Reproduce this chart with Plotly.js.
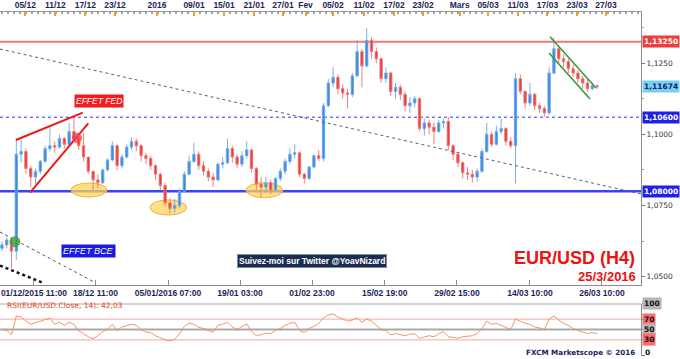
<!DOCTYPE html>
<html>
<head>
<meta charset="utf-8">
<script src="https://cdn.plot.ly/plotly-3.0.1.min.js"></script>
<style>html,body{margin:0;padding:0;background:#fff}#chart{width:680px;height:359px}</style>
</head>
<body>
<div id="chart"></div>
<script>
// ---- Data (EUR/USD H4, aggregated every 4 bars) ----
const opens = [1.0600,1.0612,1.0629,1.0590,1.0930,1.0940,1.0880,1.0850,1.0870,1.0905,1.0950,1.0960,1.0955,1.0985,1.0965,1.1010,1.0985,1.0960,1.0920,1.0870,1.0840,1.0830,1.0875,1.0910,1.0960,1.0890,1.0920,1.0955,1.0975,1.0960,1.0925,1.0915,1.0890,1.0860,1.0820,1.0760,1.0740,1.0750,1.0800,1.0860,1.0905,1.0930,1.0890,1.0870,1.0850,1.0840,1.0895,1.0900,1.0950,1.0920,1.0895,1.0925,1.0945,1.0880,1.0825,1.0815,1.0830,1.0805,1.0845,1.0870,1.0905,1.0930,1.0935,1.0860,1.0845,1.0885,1.0925,1.0915,1.1100,1.1180,1.1200,1.1160,1.1145,1.1140,1.1205,1.1290,1.1240,1.1330,1.1290,1.1265,1.1195,1.1215,1.1150,1.1165,1.1140,1.1100,1.1110,1.1125,1.1020,1.1040,1.1025,1.1010,1.1040,1.1045,1.0960,1.0930,1.0900,1.0865,1.0860,1.0850,1.0870,1.0940,1.1000,1.0965,1.1010,1.1020,1.0975,1.0960,1.1195,1.1150,1.1110,1.1140,1.1100,1.1090,1.1075,1.1215,1.1300,1.1265,1.1255,1.1230,1.1215,1.1195,1.1180,1.1160,1.1170];
const highs = [1.0625,1.0640,1.0635,1.0985,1.0981,1.0950,1.0890,1.0880,1.0910,1.0960,1.1025,1.0975,1.1000,1.0990,1.1040,1.1060,1.1005,1.1005,1.0920,1.0870,1.0860,1.0880,1.0915,1.0975,1.0965,1.0930,1.0965,1.0990,1.0985,1.0965,1.0935,1.0925,1.0895,1.0865,1.0830,1.0775,1.0775,1.0810,1.0870,1.0925,1.0970,1.0940,1.0905,1.0880,1.0865,1.0900,1.0920,1.0985,1.0960,1.0930,1.0940,1.0975,1.0950,1.0885,1.0850,1.0850,1.0840,1.0850,1.0880,1.0915,1.0950,1.0965,1.0940,1.0865,1.0890,1.0930,1.0945,1.1110,1.1195,1.1235,1.1210,1.1175,1.1160,1.1215,1.1330,1.1300,1.1372,1.1340,1.1305,1.1270,1.1235,1.1220,1.1180,1.1175,1.1150,1.1130,1.1135,1.1130,1.1055,1.1050,1.1040,1.1050,1.1055,1.1060,1.0965,1.0935,1.0905,1.0885,1.0875,1.0880,1.0950,1.1040,1.1010,1.1030,1.1055,1.1025,1.0990,1.1215,1.1210,1.1155,1.1180,1.1145,1.1110,1.1100,1.1235,1.1340,1.1310,1.1280,1.1265,1.1245,1.1225,1.1205,1.1195,1.1180,1.1175];
const lows = [1.0590,1.0600,1.0530,1.0560,1.0900,1.0860,1.0815,1.0825,1.0860,1.0900,1.0940,1.0935,1.0950,1.0950,1.0960,1.0975,1.0945,1.0905,1.0860,1.0805,1.0810,1.0825,1.0870,1.0905,1.0875,1.0880,1.0915,1.0945,1.0940,1.0905,1.0895,1.0875,1.0840,1.0805,1.0750,1.0722,1.0725,1.0740,1.0795,1.0855,1.0900,1.0875,1.0855,1.0835,1.0815,1.0835,1.0880,1.0895,1.0900,1.0880,1.0885,1.0915,1.0865,1.0805,1.0780,1.0795,1.0790,1.0800,1.0835,1.0860,1.0895,1.0915,1.0850,1.0828,1.0840,1.0880,1.0905,1.0905,1.1095,1.1165,1.1140,1.1125,1.1090,1.1130,1.1200,1.1165,1.1235,1.1265,1.1250,1.1180,1.1180,1.1135,1.1125,1.1120,1.1080,1.1075,1.1095,1.1010,1.0995,1.1000,1.0965,1.1005,1.1020,1.0945,1.0910,1.0885,1.0845,1.0840,1.0830,1.0835,1.0865,1.0935,1.0955,1.0960,1.1000,1.0960,1.0950,1.0828,1.1140,1.1090,1.1100,1.1085,1.1075,1.1060,1.1070,1.1210,1.1250,1.1235,1.1215,1.1200,1.1180,1.1160,1.1150,1.1155,1.1160];
const closes = [1.0612,1.0629,1.0590,1.0930,1.0940,1.0880,1.0850,1.0870,1.0905,1.0950,1.0960,1.0955,1.0985,1.0965,1.1010,1.0985,1.0960,1.0920,1.0870,1.0840,1.0830,1.0875,1.0910,1.0960,1.0890,1.0920,1.0955,1.0975,1.0960,1.0925,1.0915,1.0890,1.0860,1.0820,1.0760,1.0740,1.0750,1.0800,1.0860,1.0905,1.0930,1.0890,1.0870,1.0850,1.0840,1.0895,1.0900,1.0950,1.0920,1.0895,1.0925,1.0945,1.0880,1.0825,1.0815,1.0830,1.0805,1.0845,1.0870,1.0905,1.0930,1.0935,1.0860,1.0845,1.0885,1.0925,1.0915,1.1100,1.1180,1.1200,1.1160,1.1145,1.1140,1.1205,1.1290,1.1240,1.1330,1.1290,1.1265,1.1195,1.1215,1.1150,1.1165,1.1140,1.1100,1.1110,1.1125,1.1020,1.1040,1.1025,1.1010,1.1040,1.1045,1.0960,1.0930,1.0900,1.0865,1.0860,1.0850,1.0870,1.0940,1.1000,1.0965,1.1010,1.1020,1.0975,1.0960,1.1195,1.1150,1.1110,1.1140,1.1100,1.1090,1.1075,1.1215,1.1300,1.1265,1.1255,1.1230,1.1215,1.1195,1.1180,1.1160,1.1170,1.11674];
const rsi = [50,48,40,76,74,66,60,63,66,68,72,60,64,58,64,60,47,42,36,32,38,46,50,60,48,55,58,60,58,50,45,44,38,34,30,28,31,42,56,62,60,54,52,48,45,58,60,64,55,50,55,61,46,38,40,43,42,48,52,58,62,64,48,44,52,56,62,72,78,80,74,70,66,68,72,64,70,66,58,50,48,40,42,40,38,41,42,33,36,38,36,42,46,36,35,33,36,37,38,42,52,66,60,62,58,54,50,70,66,62,60,55,53,50,70,76,68,62,58,52,48,45,42,44,42.03];

// Axis labels (positions in bar units)
const topTickPos = [4.87,11.12,17.37,23.56,32.31,40.02,46.27,52.52,58.56,63.25,68.98,75.43,81.68,87.73,95.37,101.27,107.52,113.66,119.81,125.85];
const topTickText = ['05/12','11/12','17/12','23/12','2016','09/01','15/01','21/01','27/01','Fev','05/02','11/02','17/02','23/02','Mars','05/03','11/03','17/03','23/03','27/03'];
const bottomTickPos = [6.68,19.5,34.6,49.6,64.6,79.75,94.8,110.0,125.0];
const bottomTickText = ['01/12/2015 11:00','18/12 11:00','05/01/2016 07:00','19/01 03:00','01/02 23:00','15/02 19:00','29/02 15:00','14/03 10:00','26/03 10:00'];
const priceTicks = [1.05,1.075,1.10,1.125];
const rsiLevels = [100,70,50,30,0];

// Horizontal levels
const levelResistance = 1.1325;
const levelDotted = 1.1060;
const levelSupport = 1.0800;

// Trend lines [x0, price0, x1, price1]
const trendLong = [-0.4, 1.12993, 133.14, 1.07905];
const bceLine1 = [-0.4, 1.06572, 19.4, 1.04800];
const bceLine2 = [-0.4, 1.05393, 8.4, 1.04800];
const wedgeTop = [2.93, 1.09800, 16.83, 1.10758];
const wedgeBottom = [5.85, 1.07951, 17.99, 1.10386];
const channelTop = [114.18, 1.13425, 123.77, 1.11625];
const channelBottom = [113.98, 1.12853, 122.52, 1.11239];
// Zones [x0, x1, price0, price1]
const zone1 = [14.39, 21.89, 1.08291, 1.07800];
const zone2 = [30.85, 38.49, 1.07695, 1.07168];
const zone3 = [50.85, 58.49, 1.08302, 1.07775];
const fedDot = [14.7, 16.58, 1.10028, 1.09712];
const bceDot = [1.68, 3.77, 1.06407, 1.06056];

const bars = closes.map((_, i) => i);
const XR = [-0.4, 133.14];
const fmt = (v, d) => v.toFixed(d).replace('.', ',');

const traces = [
  {type:'candlestick', x:bars, open:opens, high:highs, low:lows, close:closes, xaxis:'x', yaxis:'y',
   increasing:{line:{color:'#6aa6e8', width:0.9}, fillcolor:'#3f8ade'},
   decreasing:{line:{color:'#ee7272', width:0.9}, fillcolor:'#e43e3e'},
   hoverinfo:'skip', showlegend:false},
  {type:'scatter', mode:'none', x:[bars[0]], y:[closes[0]], xaxis:'x2', yaxis:'y', hoverinfo:'skip', showlegend:false},
  {type:'scatter', mode:'lines', x:bars, y:rsi, xaxis:'x3', yaxis:'y2', line:{color:'#f08a55', width:0.9}, hoverinfo:'skip', showlegend:false}
];

function tl(a, color, width, dash, layer){
  return {type:'line', xref:'x', yref:'y', x0:a[0], y0:a[1], x1:a[2], y1:a[3], line:{color:color, width:width, dash:dash||'solid'}, layer:layer||'above'};
}
function zone(a, fill, border, layer){
  return {type:'circle', xref:'x', yref:'y', x0:a[0], x1:a[1], y0:a[2], y1:a[3], fillcolor:fill, line:{color:border, width:1}, layer:layer||'below'};
}
function hline(v, color, width, dash, yref){
  return {type:'line', xref:'paper', x0:0, x1:1, yref:yref||'y', y0:v, y1:v, line:{color:color, width:width, dash:dash||'solid'}, layer:'below'};
}

const shapes = [
  zone(zone1, 'rgba(255,214,90,0.75)', '#f2b040'),
  zone(zone2, 'rgba(255,214,90,0.75)', '#f2b040'),
  zone(zone3, 'rgba(255,214,90,0.75)', '#f2b040'),
  hline(levelResistance, '#f27676', 2),
  hline(levelDotted, '#3636e0', 1, 'dot'),
  hline(levelSupport, '#3b44f2', 2.5),
  tl(trendLong, '#4d6685', 1, 'dot'),
  tl(bceLine1, '#555555', 1, 'dot'),
  tl(bceLine2, '#111111', 2.5, 'dot'),
  tl(wedgeTop, '#f01818', 2),
  tl(wedgeBottom, '#f01818', 2),
  tl(channelTop, '#2f9a2f', 1.5),
  tl(channelBottom, '#2f9a2f', 1.5),
  zone(fedDot, 'rgba(240,70,70,0.75)', 'rgba(240,70,70,0.75)', 'above'),
  zone(bceDot, 'rgba(60,165,60,0.8)', 'rgba(60,165,60,0.8)', 'above'),
  hline(100, '#a9a9a9', 2.2, 'solid', 'y2'),
  hline(70, '#f6a6a6', 1, 'solid', 'y2'),
  hline(50, '#a9a9a9', 2.2, 'solid', 'y2'),
  hline(30, '#f6a6a6', 1, 'solid', 'y2')
];

function boxLabel(v, yref, text, bg, fg){
  return {xref:'paper', x:1, xanchor:'left', xshift:1, yref:yref, y:v, yanchor:'middle', text:'<b>'+text+'</b>', showarrow:false,
    bgcolor:bg, borderpad:1, font:{family:'DejaVu Sans', size:7.5, color:fg}};
}
function txt(x, y, xa, text, font, extra){
  return Object.assign({xref:'paper', yref:'paper', x:x, y:y, xanchor:xa, yanchor:'middle', text:text, showarrow:false, font:font}, extra||{});
}
const rsiBg = ['#b5b5b5','#ff6b6b','#b5b5b5','#ff6b6b'];
const lastClose = closes[closes.length-1];
const annotations = [
  boxLabel(levelResistance, 'y', fmt(levelResistance,5), '#f03c3c', '#ffffff'),
  boxLabel(lastClose, 'y', fmt(lastClose,5), '#7acff5', '#0c2466'),
  boxLabel(levelDotted, 'y', fmt(levelDotted,5), '#2020e6', '#ffffff'),
  boxLabel(levelSupport, 'y', fmt(levelSupport,5), '#2020e6', '#ffffff'),
  ...rsiLevels.slice(0, 4).map((v,k) => boxLabel(v, 'y2', String(v), rsiBg[k], '#111111')),
  txt(1, 0.009, 'left', '<b>' + rsiLevels[4] + '</b>', {family:'DejaVu Sans', size:7.5, color:'#111111'}, {xshift:2}),
  txt(0.1537, 0.7427, 'center', 'EFFET FED', {family:'Liberation Sans', size:8.5, color:'#ffffff', style:'italic'}, {bgcolor:'#f41c1c', borderpad:1}),
  txt(0.1373, 0.3038, 'center', 'EFFET BCE', {family:'Liberation Sans', size:9, color:'#ffffff', style:'italic'}, {bgcolor:'#1a1ae0', borderpad:1}),
  txt(0.486, 0.2776, 'center', '<b>Suivez-moi sur Twitter @YoavNizard</b>', {family:'Liberation Sans', size:8.5, color:'#ffffff'},
      {bgcolor:'#1c2b50', borderpad:1, bordercolor:'#7a8aa8', borderwidth:1}),
  txt(0.9922, 0.2863, 'right', '<b>EUR/USD (H4)</b>', {family:'Liberation Sans', size:18, color:'#ee1111'}, {borderpad:0}),
  txt(0.9935, 0.2311, 'right', '<b>25/3/2016</b>', {family:'Liberation Sans', size:13, color:'#ee1111'}, {borderpad:0}),
  txt(0.9935, 0.0095, 'right', '<b>FXCM Marketscope © 2016</b>', {family:'DejaVu Sans', size:7.2, color:'#1c2560'}),
  txt(0.0078, 0.1455, 'left', 'RSI(EUR/USD.Close, 14): '+fmt(rsi[rsi.length-1],2), {family:'DejaVu Sans', size:7.5, color:'#e8431a'})
];

const axFont = {family:'Liberation Sans', size:8.5, color:'#1c2560'};
const layout = {
  width:680, height:359,
  margin:{l:0, r:39, t:12, b:3},
  paper_bgcolor:'#ffffff', plot_bgcolor:'#ffffff',
  separators:',.',
  showlegend:false,
  xaxis:{domain:[0,1], range:XR, anchor:'y', showgrid:false, zeroline:false, showline:true, linecolor:'#8c8c8c', linewidth:1,
    ticks:'inside', ticklen:5, tickcolor:'#8c8c8c', tickmode:'array', tickvals:bottomTickPos,
    ticktext:bottomTickText.map(t => '<b>'+t+'</b>'), tickfont:axFont, ticklabeloverflow:'allow',
    rangeslider:{visible:false}, fixedrange:true},
  xaxis2:{overlaying:'x', side:'top', anchor:'y', range:XR, showgrid:false, zeroline:false, showline:true, linecolor:'#9a9a9a',
    ticks:'inside', ticklen:4, tickwidth:2, tickcolor:'#f0a028', tickmode:'array', tickvals:topTickPos,
    ticktext:topTickText.map(t => '<b>'+t+'</b>'), tickfont:axFont, ticklabeloverflow:'allow',
    minor:{tickmode:'linear', tick0:0, dtick:1.25, ticks:'inside', ticklen:2, tickcolor:'#a0a0a0'}},
  xaxis3:{anchor:'y2', matches:'x', range:XR, showgrid:false, zeroline:false, showline:false, showticklabels:false, ticks:''},
  yaxis:{domain:[0.2064,1], range:[1.04712,1.14291], side:'right', anchor:'x', showgrid:false, zeroline:false,
    showline:true, linecolor:'#8c8c8c', ticks:'outside', ticklen:3, tickcolor:'#777', tickmode:'array', tickvals:priceTicks,
    tickformat:'.4f', tickfont:{family:'DejaVu Sans', size:7.5, color:'#333333'},
    minor:{tickmode:'linear', tick0:1.0, dtick:0.0125, ticks:'outside', ticklen:2, tickcolor:'#999'}},
  yaxis2:{domain:[0,0.1526], range:[-1,100], side:'right', anchor:'x3', showgrid:false, zeroline:false,
    showline:true, linecolor:'#8c8c8c', ticks:'outside', ticklen:3, tickcolor:'#777', tickmode:'array', tickvals:rsiLevels,
    showticklabels:false},
  shapes:shapes,
  annotations:annotations
};

Plotly.newPlot('chart', traces, layout, {staticPlot:true, displayModeBar:false});
</script>
</body>
</html>
